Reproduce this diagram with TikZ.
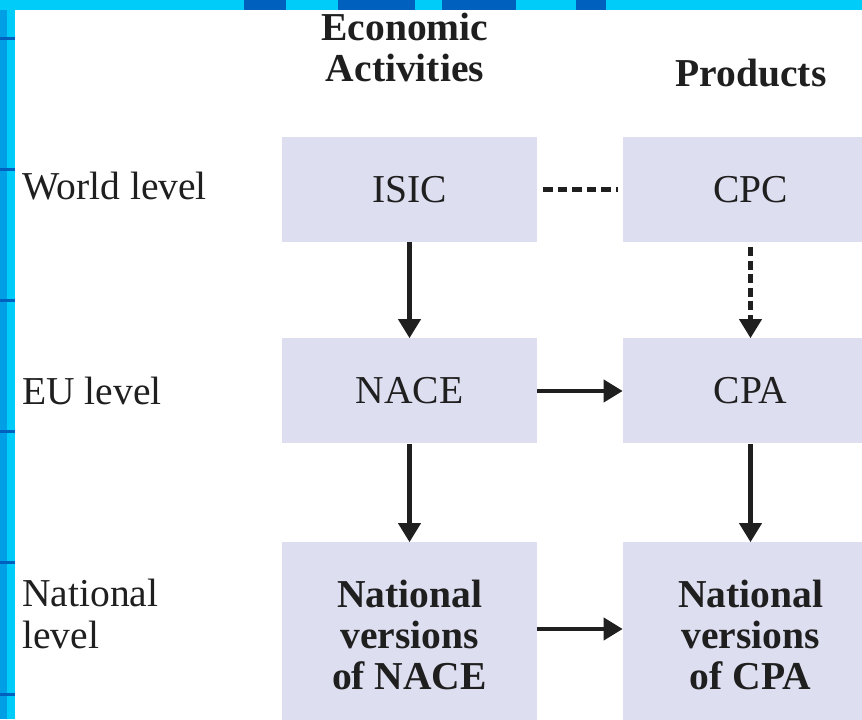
\documentclass[tikz,border=0pt]{standalone}
\usepackage{fontspec}
\setmainfont{Liberation Serif}
\usetikzlibrary{arrows.meta}

\definecolor{boxfill}{RGB}{221,222,240}
\definecolor{edgecyan}{RGB}{0,204,250}
\definecolor{edgeblue}{RGB}{0,158,228}
\definecolor{edgedark}{RGB}{0,96,190}
\newcommand{\diagfont}{\fontsize{22.5}{23.5}\selectfont}

\tikzset{
  classbox/.style={fill=boxfill, minimum width=5.1cm, minimum height=2.1cm, inner sep=0pt, align=center, text=black!88},
  boldtext/.style={font=\diagfont\bfseries},
  leveltext/.style={inner sep=0pt, text=black!88},
  flow/.style={line width=2.3pt, black!88, -{Triangle[length=0.38cm, width=0.44cm]}},
  dotted link/.style={line width=2.3pt, black!88, dash pattern=on 0.19cm off 0.1cm}
}

\begin{document}
\begin{tikzpicture}[font=\diagfont]

        \useasboundingbox (0,0) rectangle (17.24,14.38);
        \clip (0,0) rectangle (17.24,14.38);
        \fill[white] (0,0) rectangle (17.24,14.38);

        \fill[edgecyan] (0,0) rectangle (0.3,14.38);
        \fill[edgeblue] (0,0) rectangle (0.15,14.38);
        \fill[edgecyan] (0,14.18) rectangle (17.24,14.38);
        \fill[edgedark] (4.88,14.18) rectangle (5.72,14.38);
        \fill[edgedark] (6.76,14.18) rectangle (8.30,14.38);
        \fill[edgedark] (8.84,14.18) rectangle (10.32,14.38);
        \fill[edgedark] (11.52,14.18) rectangle (12.12,14.38);
        \fill[edgedark] (0,13.57) rectangle (0.3,13.63);
        \fill[edgedark] (0,10.95) rectangle (0.3,11.01);
        \fill[edgedark] (0,8.33) rectangle (0.3,8.39);
        \fill[edgedark] (0,5.71) rectangle (0.3,5.77);
        \fill[edgedark] (0,3.09) rectangle (0.3,3.15);
        \fill[edgedark] (0,0.47) rectangle (0.3,0.53);

        \coordinate (w1) at (8.19,10.59);
        \coordinate (w2) at (15.01,10.59);
        \coordinate (e1) at (8.19,6.56);
        \coordinate (e2) at (15.01,6.56);
        \coordinate (n1) at (8.19,1.68);
        \coordinate (n2) at (15.01,1.68);

        \node[leveltext, boldtext, align=center] (activities) at (8.1,13.43) {Economic\\Activities};
        \node[leveltext, boldtext, anchor=base] (products) at (15.02,12.64) {Products};

        \node[leveltext, anchor=base west] (world) at (0.44,10.38) {World level};
        \node[leveltext, anchor=base west] (eu) at (0.44,6.28) {EU level};
        \node[leveltext, anchor=west, align=left] (national) at (0.44,2.1) {National\\level};

        \node[classbox] (isic) at (w1) {ISIC};
        \node[classbox] (cpc) at (w2) {CPC};
        \node[classbox] (nace) at (e1) {NACE};
        \node[classbox] (cpa) at (e2) {CPA};
        \node[classbox, boldtext, minimum height=3.7cm] (natnace) at (n1) {National\\versions\\of NACE};
        \node[classbox, boldtext, minimum height=3.7cm] (natcpa) at (n2) {National\\versions\\of CPA};

        \draw[dotted link, shorten <=0.12cm, shorten >=0.1cm] (isic)--(cpc);
        \draw[flow] (isic)--(nace);
        \draw[flow, dash pattern=on 0.18cm off 0.09cm, shorten <=0.1cm] (cpc)--(cpa);
        \draw[flow] (nace)--(cpa);
        \draw[flow] (nace)--(natnace);
        \draw[flow] (cpa)--(natcpa);
        \draw[flow] ([yshift=0.12cm]natnace.east)--([yshift=0.12cm]natcpa.west);

    \end{tikzpicture}
\end{document}
